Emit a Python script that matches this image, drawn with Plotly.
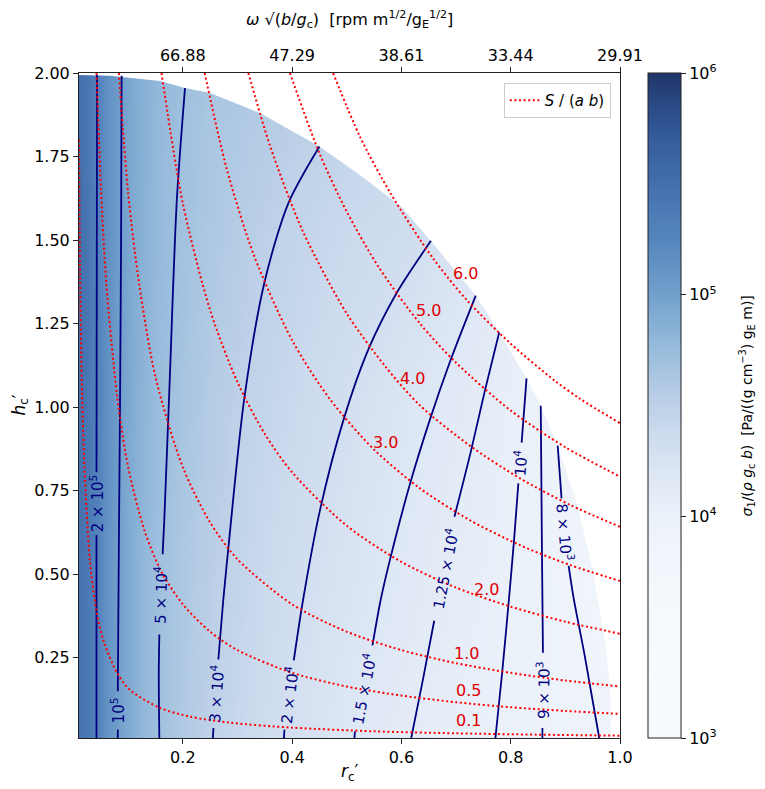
import numpy as np
import plotly.graph_objects as go

FONT = "DejaVu Sans"
NAVY = "#000080"
RED_LINE = "#ff0000"
RED_TEXT = "#e00000"

# ---------------- axis ticks ----------------
r_ticks = [0.2, 0.4, 0.6, 0.8, 1.0]
r_ticklabels = ["0.2", "0.4", "0.6", "0.8", "1.0"]
omega_ticklabels = ["66.88", "47.29", "38.61", "33.44", "29.91"]
h_ticks = [0.25, 0.5, 0.75, 1.0, 1.25, 1.5, 1.75, 2.0]
h_ticklabels = ["0.25", "0.50", "0.75", "1.00", "1.25", "1.50", "1.75", "2.00"]
cbar_ticks = [1e3, 1e4, 1e5, 1e6]
cbar_ticklabels = ["10<sup>3</sup>", "10<sup>4</sup>", "10<sup>5</sup>", "10<sup>6</sup>"]

# ---------------- sigma field (estimated grid values) ----------------
r_nodes = [0.01, 0.025, 0.042, 0.06, 0.083, 0.12, 0.157, 0.2, 0.255, 0.32,
           0.385, 0.45, 0.514, 0.618, 0.7, 0.772, 0.858, 0.962, 1.0]
h_nodes = [0.01, 0.5, 1.0, 1.5, 2.0]
sigma_h001 = [3.0e5, 2.6e5, 2.0e5, 1.4e5, 1.0e5, 6.6e4, 5.0e4, 3.9e4, 3.0e4, 2.4e4,
              2.0e4, 1.72e4, 1.5e4, 1.25e4, 1.1e4, 1.0e4, 9.0e3, 8.0e3, 7.7e3]
sigma_h050 = [3.0e5, 2.6e5, 2.0e5, 1.4e5, 9.9e4, 6.7e4, 5.1e4, 4.1e4, 3.25e4, 2.65e4,
              2.2e4, 1.92e4, 1.7e4, 1.4e4, 1.22e4, 1.07e4, 9.0e3, 7.0e3, 6.5e3]
sigma_h100 = [3.1e5, 2.65e5, 2.03e5, 1.45e5, 1.02e5, 7.0e4, 5.5e4, 4.5e4, 3.6e4, 2.92e4,
              2.55e4, 2.2e4, 1.95e4, 1.6e4, 1.37e4, 1.18e4, 9.0e3, 7.0e3, 6.5e3]
sigma_h150 = [3.2e5, 2.7e5, 2.05e5, 1.47e5, 1.05e5, 7.4e4, 5.9e4, 4.85e4, 4.0e4, 3.4e4,
              2.92e4, 2.6e4, 2.35e4, 2.12e4, 1.75e4, 1.4e4, 1.2e4, 1.0e4, 9.5e3]
sigma_h200 = [3.2e5, 2.7e5, 2.05e5, 1.48e5, 1.06e5, 7.6e4, 6.1e4, 5.1e4, 4.4e4, 4.0e4,
              3.6e4, 3.3e4, 3.0e4, 2.7e4, 2.4e4, 2.1e4, 1.8e4, 1.5e4, 1.4e4]

# outer edge of the filled region
edge_r = [0.0, 0.067, 0.158, 0.204, 0.25, 0.341, 0.45, 0.524, 0.6, 0.654, 0.713, 0.736,
          0.779, 0.829, 0.855, 0.886, 0.92, 0.945, 0.963, 0.975, 0.982, 0.985]
edge_h = [1.994, 1.992, 1.976, 1.955, 1.94, 1.88, 1.78, 1.695, 1.6, 1.497, 1.38, 1.334,
          1.224, 1.086, 1.004, 0.885, 0.72, 0.55, 0.393, 0.27, 0.15, 0.0]

# ---------------- sigma contour lines (None = gap for label) ----------------
c2e5_r = [0.042, 0.042, None, 0.042, 0.043]
c2e5_h = [0.01, 0.617, None, 0.805, 1.994]
c1e5_r = [0.081, 0.081, None, 0.081, 0.083, 0.085, 0.087, 0.088]
c1e5_h = [0.01, 0.035, None, 0.15, 0.6, 1.0, 1.5, 1.992]
c5e4_r = [0.157, 0.156, 0.157, None, 0.163, 0.166, 0.176, 0.189, 0.204]
c5e4_h = [0.01, 0.2, 0.32, None, 0.56, 0.66, 1.08, 1.62, 1.955]
c3e4_r = [0.255, 0.256, None, 0.265, 0.274, 0.283, 0.312, 0.349, 0.393, 0.45]
c3e4_h = [0.01, 0.04, None, 0.245, 0.423, 0.573, 1.02, 1.371, 1.61, 1.78]
c2e4_r = [0.385, 0.386, None, 0.403, 0.42, 0.451, 0.494, 0.539, 0.591, 0.654]
c2e4_h = [0.01, 0.035, None, 0.242, 0.423, 0.692, 0.962, 1.171, 1.341, 1.498]
c15e4_r = [0.514, 0.515, None, 0.547, 0.562, 0.579, 0.616, 0.652, 0.69, 0.736]
c15e4_h = [0.01, 0.03, None, 0.287, 0.423, 0.543, 0.772, 0.962, 1.141, 1.334]
c125e4_r = [0.618, 0.64, 0.66, None, 0.697, 0.727, 0.753, 0.779]
c125e4_h = [0.01, 0.19, 0.361, None, 0.672, 0.867, 1.051, 1.224]
c1e4_r = [0.772, 0.784, 0.795, 0.806, 0.814, None, 0.82, 0.829]
c1e4_h = [0.01, 0.2, 0.393, 0.6, 0.772, None, 0.894, 1.086]
c9e3_r = [0.858, 0.858, None, 0.859, 0.857, 0.855]
c9e3_h = [0.01, 0.04, None, 0.265, 0.6, 1.004]
c8e3_r = [0.962, 0.935, 0.915, 0.906, None, 0.893, 0.886]
c8e3_h = [0.01, 0.26, 0.43, 0.525, None, 0.727, 0.885]

sigma_lines = [(c2e5_r, c2e5_h), (c1e5_r, c1e5_h), (c5e4_r, c5e4_h), (c3e4_r, c3e4_h),
               (c2e4_r, c2e4_h), (c15e4_r, c15e4_h), (c125e4_r, c125e4_h),
               (c1e4_r, c1e4_h), (c9e3_r, c9e3_h), (c8e3_r, c8e3_h)]

sigma_labels = ["2 × 10<sup>5</sup>", "10<sup>5</sup>", "5 × 10<sup>4</sup>", "3 × 10<sup>4</sup>",
                "2 × 10<sup>4</sup>", "1.5 × 10<sup>4</sup>", "1.25 × 10<sup>4</sup>",
                "10<sup>4</sup>", "9 × 10<sup>3</sup>", "8 × 10<sup>3</sup>"]
sigma_label_r = [0.042, 0.081, 0.159, 0.26, 0.394, 0.53, 0.679, 0.817, 0.858, 0.899]
sigma_label_h = [0.711, 0.092, 0.44, 0.142, 0.139, 0.158, 0.517, 0.833, 0.152, 0.626]
sigma_label_angle = [-90, -90, -88, -86, -83, -79, -79, -85, -89, 85]

# ---------------- S/(ab) dotted lines ----------------
s01_r = [0.01, 0.012, 0.015, 0.02, 0.03, 0.042, 0.055, 0.08, 0.103, 0.158, 0.213, 0.286, 0.4, 0.55, 0.7, 0.85, 1.0]
s01_h = [1.8, 1.4, 1.08, 0.82, 0.54, 0.39, 0.3, 0.204, 0.154, 0.1, 0.074, 0.056, 0.041, 0.03, 0.024, 0.02, 0.017]
s05_r = [0.042, 0.05, 0.06, 0.08, 0.1, 0.13, 0.16, 0.2, 0.25, 0.3, 0.4, 0.5, 0.6, 0.7, 0.8, 0.9, 1.0]
s05_h = [2.0, 1.66, 1.37, 1.03, 0.82, 0.63, 0.51, 0.41, 0.328, 0.273, 0.205, 0.164, 0.137, 0.117, 0.102, 0.091, 0.082]
s10_r = [0.083, 0.1, 0.12, 0.15, 0.2, 0.25, 0.3, 0.4, 0.5, 0.6, 0.7, 0.8, 0.9, 1.0]
s10_h = [2.0, 1.64, 1.37, 1.09, 0.82, 0.655, 0.545, 0.41, 0.328, 0.273, 0.234, 0.205, 0.182, 0.164]
s20_r = [0.161, 0.2, 0.25, 0.3, 0.35, 0.4, 0.5, 0.6, 0.7, 0.8, 0.9, 1.0]
s20_h = [2.0, 1.61, 1.29, 1.075, 0.92, 0.805, 0.645, 0.537, 0.46, 0.403, 0.358, 0.322]
s30_r = [0.24, 0.28, 0.33, 0.4, 0.47, 0.55, 0.634, 0.725, 0.817, 0.908, 1.0]
s30_h = [2.0, 1.715, 1.455, 1.2, 1.022, 0.873, 0.757, 0.662, 0.587, 0.528, 0.48]
s40_r = [0.32, 0.36, 0.42, 0.5, 0.57, 0.634, 0.725, 0.817, 0.908, 1.0]
s40_h = [2.0, 1.78, 1.525, 1.28, 1.123, 1.005, 0.885, 0.787, 0.708, 0.642]
s50_r = [0.396, 0.45, 0.5, 0.56, 0.634, 0.7, 0.8, 0.9, 1.0]
s50_h = [2.0, 1.76, 1.585, 1.415, 1.25, 1.133, 0.99, 0.88, 0.792]
s60_r = [0.475, 0.524, 0.58, 0.658, 0.72, 0.8, 0.88, 0.927, 1.0]
s60_h = [2.0, 1.81, 1.64, 1.445, 1.32, 1.19, 1.08, 1.025, 0.952]
s_lines = [(s01_r, s01_h), (s05_r, s05_h), (s10_r, s10_h), (s20_r, s20_h),
           (s30_r, s30_h), (s40_r, s40_h), (s50_r, s50_h), (s60_r, s60_h)]

s_labels = ["0.1", "0.5", "1.0", "2.0", "3.0", "4.0", "5.0", "6.0"]
s_label_r = [0.722, 0.722, 0.72, 0.756, 0.57, 0.62, 0.649, 0.718]
s_label_h = [0.062, 0.151, 0.264, 0.453, 0.894, 1.086, 1.29, 1.40]

# ---------------- colour scale ----------------
cscale = [[0.0, "#f7fbff"], [0.2, "#f5f9fd"], [0.27, "#f2f6fc"], [0.333, "#ebf1f9"],
          [0.39, "#dfe8f5"], [0.455, "#cddbee"], [0.52, "#b5cce5"], [0.585, "#98bcdc"],
          [0.667, "#72a0cc"], [0.75, "#5585bd"], [0.8, "#4b79b5"], [0.9, "#355c9c"],
          [0.95, "#2b4a87"], [1.0, "#1f3566"]]

fig = go.Figure()

z = np.log10(np.array([sigma_h001, sigma_h050, sigma_h100, sigma_h150, sigma_h200]))
fig.add_trace(go.Heatmap(
    x=r_nodes, y=h_nodes, z=z, zsmooth="best", colorscale=cscale, zmin=3, zmax=6,
    hoverinfo="skip",
    colorbar=dict(
        x=1.0518, xanchor="left", xpad=0, y=0.5, yanchor="middle", ypad=0,
        len=1, lenmode="fraction", thickness=33, thicknessmode="pixels",
        outlinewidth=1, outlinecolor="#222",
        tickmode="array", tickvals=list(np.log10(cbar_ticks)), ticktext=cbar_ticklabels,
        ticks="outside", ticklen=5, tickwidth=1, tickcolor="#222",
        tickfont=dict(family=FONT, size=16, color="black"),
    ),
))

# white region outside the domain
mask_r = edge_r + [0.985, 1.05, 1.05, 0.0]
mask_h = edge_h + [-0.05, -0.05, 2.05, 2.05]
fig.add_trace(go.Scatter(x=mask_r, y=mask_h, mode="lines", fill="toself",
                         fillcolor="white", line=dict(width=0, color="white"),
                         hoverinfo="skip", showlegend=False))

for (lr, lh) in sigma_lines:
    fig.add_trace(go.Scatter(x=lr, y=lh, mode="lines",
                             line=dict(color=NAVY, width=1.8, shape="spline", smoothing=0.8),
                             connectgaps=False, hoverinfo="skip", showlegend=False))

for i, (lr, lh) in enumerate(s_lines):
    fig.add_trace(go.Scatter(x=lr, y=lh, mode="lines",
                             line=dict(color=RED_LINE, width=2, dash="2px,2.6px",
                                       shape="spline", smoothing=0.8),
                             name="<i>S</i> / (<i>a b</i>)", showlegend=(i == 0),
                             hoverinfo="skip"))

annotations = []
for txt, xr, yh, ang in zip(sigma_labels, sigma_label_r, sigma_label_h, sigma_label_angle):
    annotations.append(dict(x=xr, y=yh, xref="x", yref="y", text=txt, showarrow=False,
                            textangle=ang, font=dict(family=FONT, size=15, color=NAVY),
                            xanchor="center", yanchor="middle"))
for txt, xr, yh in zip(s_labels, s_label_r, s_label_h):
    annotations.append(dict(x=xr, y=yh, xref="x", yref="y", text=txt, showarrow=False,
                            font=dict(family=FONT, size=16, color=RED_TEXT),
                            xanchor="center", yanchor="middle"))

# axis titles
annotations.append(dict(x=0.5, y=-0.0526, xref="paper", yref="paper",
                        text="<i>r</i><sub>c</sub>′", showarrow=False,
                        font=dict(family=FONT, size=17, color="black"),
                        xanchor="center", yanchor="middle"))
annotations.append(dict(x=-0.109, y=0.5, xref="paper", yref="paper",
                        text="<i>h</i><sub>c</sub>′", showarrow=False, textangle=-90,
                        font=dict(family=FONT, size=17, color="black"),
                        xanchor="center", yanchor="middle"))
annotations.append(dict(x=0.5, y=1.0797, xref="paper", yref="paper",
                        text="<i>ω</i> √(<i>b</i>/<i>g</i><sub>c</sub>)  [rpm m<sup>1/2</sup>/g<sub>E</sub><sup>1/2</sup>]",
                        showarrow=False, font=dict(family=FONT, size=16, color="black"),
                        xanchor="center", yanchor="middle"))
annotations.append(dict(x=1.2347, y=0.5, xref="paper", yref="paper",
                        text="<i>σ</i><sub>1</sub>/(<i>ρ g</i><sub>c</sub> <i>b</i>)  [Pa/((g cm<sup>−3</sup>) g<sub>E</sub> m)]",
                        showarrow=False, textangle=-90,
                        font=dict(family=FONT, size=14, color="black"),
                        xanchor="center", yanchor="middle"))

axis_common = dict(showgrid=False, zeroline=False, ticks="outside", ticklen=5, tickwidth=1,
                   tickcolor="#222", linecolor="#222", linewidth=1,
                   tickfont=dict(family=FONT, size=16, color="black"))

fig.update_layout(
    width=765, height=789,
    margin=dict(l=79, r=145, t=73, b=51, autoexpand=False),
    paper_bgcolor="white", plot_bgcolor="white",
    font=dict(family=FONT, size=16, color="black"),
    xaxis=dict(range=[0.01, 1.0], tickmode="array", tickvals=r_ticks, ticktext=r_ticklabels,
               showline=True, mirror=True, automargin=False, **axis_common),
    xaxis2=dict(range=[0.01, 1.0], overlaying="x", side="top", tickmode="array",
                tickvals=r_ticks, ticktext=omega_ticklabels, showline=False,
                automargin=False, **axis_common),
    yaxis=dict(range=[0.01, 2.0], tickmode="array", tickvals=h_ticks, ticktext=h_ticklabels,
               showline=True, mirror=True, automargin=False, **axis_common),
    legend=dict(x=0.983, y=0.985, xanchor="right", yanchor="top",
                bgcolor="rgba(255,255,255,0.85)", bordercolor="#cccccc", borderwidth=1,
                font=dict(family=FONT, size=15, color="black")),
    annotations=annotations,
)

# invisible trace to activate the top axis
fig.add_trace(go.Scatter(x=[0.5], y=[1.0], xaxis="x2", mode="markers",
                         marker=dict(opacity=0), hoverinfo="skip", showlegend=False))

fig.write_html("out.html", config={"displayModeBar": False},
               post_script="document.body.style.margin='0';document.body.style.overflow='hidden';")
